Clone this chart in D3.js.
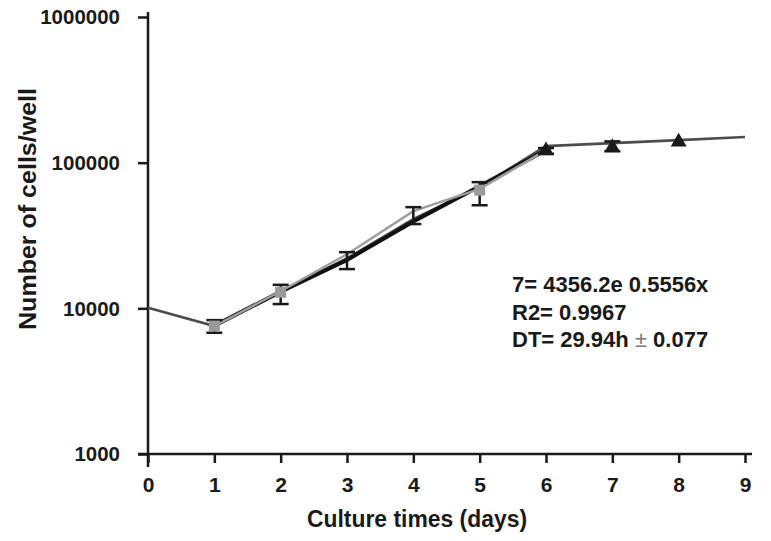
<!DOCTYPE html>
<html><head><meta charset="utf-8">
<script src="https://cdn.jsdelivr.net/npm/d3@7"></script>
<style>
body{margin:0;background:#fff;}
text{font-family:"Liberation Sans",Arial,sans-serif;font-weight:bold;fill:#1a1a1a;}
</style></head>
<body>
<svg id="c" width="771" height="541"></svg>
<script>
// ---- data ----
const xTicks = [0,1,2,3,4,5,6,7,8,9];
const yTicks = [1000,10000,100000,1000000];
// overall growth curve (dark grey line)
const curveDays   = [0,1,2,3,4,5,6,7,8,9];
const curveValues = [10100,7550,13000,22000,41000,68000,130000,136000,143000,150000];
// exponential-phase fit (thick black line)
const fitDays   = [1,2,3,4,5,6];
const fitValues = [7600,13000,21500,39500,69000,122000];
// measured exponential-phase series (light grey line, squares)
const expDays   = [1,2,3,4,5,6];
const expValues = [7550,13100,23500,46500,66000,122000];
const squareDays   = [1,2,5];
const squareValues = [7550,12900,64800];
// plateau measurements (triangles)
const triDays   = [6,7,8];
const triValues = [121000,127000,139000];
// error bars
const errDays = [1,2,3,4,5,6,7];
const errLow  = [6800,10700,18600,37900,51000,115000,120000];
const errHigh = [8300,14500,24300,49500,73500,126000,140000];
const eqLines = ["7= 4356.2e 0.5556x","R2= 0.9967"];
const dtLine = ["DT= 29.94h ","±"," 0.077"];

const svg = d3.select("#c");
const x = d3.scaleLinear().domain([0,9]).range([148,745]);
const y = d3.scaleLog().domain([1000,1000000]).range([454,17]);
const ink = "#1a1a1a";
const FF = "Liberation Sans, Arial, sans-serif";

// axes
const xAxis = svg.append("g").attr("transform","translate(0,454)")
  .call(d3.axisBottom(x).tickValues(xTicks).tickSize(9).tickPadding(14).tickFormat(d3.format("d")));
xAxis.select(".domain").attr("d","M138,0H752").attr("stroke",ink).attr("stroke-width",2.5);
xAxis.selectAll(".tick line").attr("stroke",ink).attr("stroke-width",2.5);
xAxis.selectAll(".tick text").attr("font-size",21).attr("fill",ink).attr("font-family",FF).attr("font-weight","bold");

const yAxis = svg.append("g").attr("transform","translate(148,0)")
  .call(d3.axisLeft(y).tickValues(yTicks).tickSize(10).tickPadding(18).tickFormat(d3.format("d")));
yAxis.select(".domain").attr("d","M0,12V467").attr("stroke",ink).attr("stroke-width",2.5);
yAxis.selectAll(".tick line").attr("stroke",ink).attr("stroke-width",2.5);
yAxis.selectAll(".tick text").attr("font-size",21).attr("fill",ink).attr("font-family",FF).attr("font-weight","bold")
  .attr("textLength",d=>String(d).length*11.4).attr("lengthAdjust","spacingAndGlyphs");

// axis titles
svg.append("text").attr("x",417).attr("y",527).attr("text-anchor","middle").attr("font-size",23)
  .attr("textLength",220).attr("lengthAdjust","spacingAndGlyphs")
  .text("Culture times (days)");
svg.append("text").attr("transform","translate(36,209) rotate(-90)").attr("text-anchor","middle").attr("font-size",23)
  .attr("textLength",242).attr("lengthAdjust","spacingAndGlyphs")
  .text("Number of cells/well");

const line = d3.line().x(d=>x(d[0])).y(d=>y(d[1]));
svg.append("path").datum(d3.zip(curveDays,curveValues)).attr("d",line)
  .attr("fill","none").attr("stroke","#4d4d4d").attr("stroke-width",2.7);
svg.append("path").datum(d3.zip(fitDays,fitValues)).attr("d",line)
  .attr("fill","none").attr("stroke","#111").attr("stroke-width",4);
svg.append("path").datum(d3.zip(expDays,expValues)).attr("d",line)
  .attr("fill","none").attr("stroke","#9e9e9e").attr("stroke-width",2.5);

// error bars
const eb = svg.append("g").attr("stroke",ink).attr("stroke-width",2.5);
errDays.forEach((d,i)=>{
  const cx = x(d);
  eb.append("line").attr("x1",cx).attr("x2",cx).attr("y1",y(errLow[i])).attr("y2",y(errHigh[i]));
  eb.append("line").attr("x1",cx-8).attr("x2",cx+8).attr("y1",y(errLow[i])).attr("y2",y(errLow[i]));
  eb.append("line").attr("x1",cx-8).attr("x2",cx+8).attr("y1",y(errHigh[i])).attr("y2",y(errHigh[i]));
});

// markers
svg.append("g").selectAll("rect").data(d3.zip(squareDays,squareValues)).join("rect")
  .attr("x",d=>x(d[0])-5.5).attr("y",d=>y(d[1])-5.5).attr("width",11).attr("height",11).attr("fill","#9a9a9a");
const tri = d3.symbol().type(d3.symbolTriangle).size(110);
svg.append("g").selectAll("path").data(d3.zip(triDays,triValues)).join("path")
  .attr("transform",d=>`translate(${x(d[0])},${y(d[1])})`).attr("d",tri).attr("fill",ink);

// annotation
const ann = svg.append("g");
eqLines.forEach((t,i)=>{
  ann.append("text").attr("x",512).attr("y",292+i*27.5).attr("font-size",22).text(t);
});
const t3 = ann.append("text").attr("x",512).attr("y",347).attr("font-size",22);
t3.append("tspan").text(dtLine[0]);
t3.append("tspan").style("font-weight","normal").style("fill","#777").text(dtLine[1]);
t3.append("tspan").text(dtLine[2]);
</script>
</body></html>
